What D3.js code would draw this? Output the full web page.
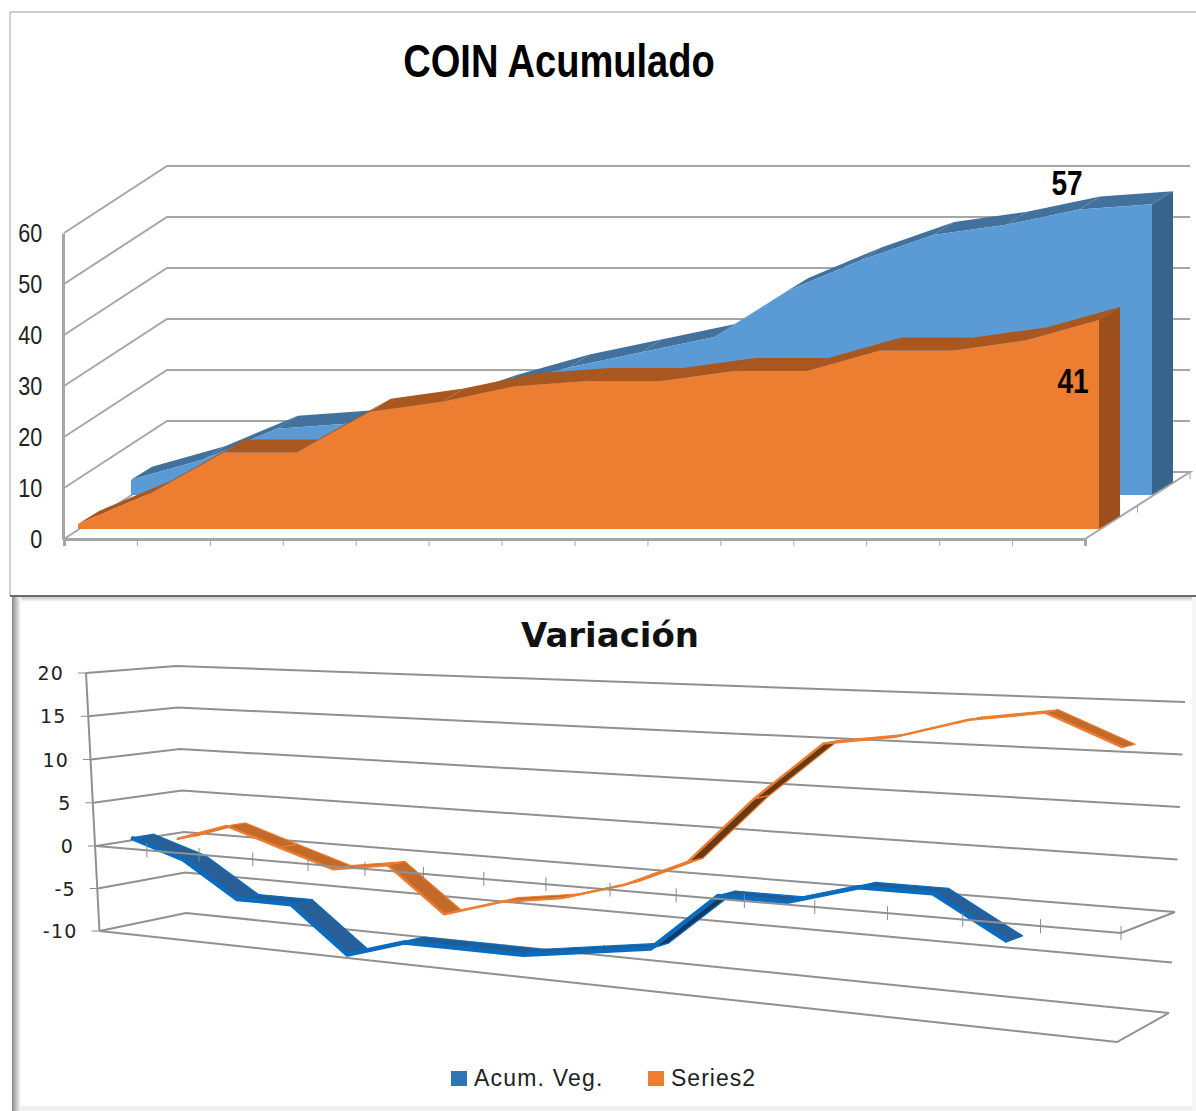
<!DOCTYPE html>
<html>
<head>
<meta charset="utf-8">
<script src="https://cdn.jsdelivr.net/npm/d3@7"></script>
<style>
    html, body { margin: 0; padding: 0; background: #fff; }
    svg { display: block; }
</style>
</head>
<body>
<svg id="chart" width="1196" height="1111"></svg>
<script>
// top chart: COIN Acumulado
const coinTitle = 'COIN Acumulado';
const coinValueTicks = [0, 10, 20, 30, 40, 50, 60];
const coinBlue = [3, 7, 13, 14, 16, 21, 25, 28, 31, 40, 46, 51, 53, 56, 57];
const coinOrange = [1, 7, 15, 15, 23, 25, 28, 29, 29, 31, 31, 35, 35, 37, 41];

// bottom chart: Variación
const varTitle = 'Variación';
const varValueTicks = [-10, -5, 0, 5, 10, 15, 20];
const varCategoryCount = 16;
const varSeriesNames = ['Acum. Veg.', 'Series2'];
const varBlue = [1, -1, -5, -5, -10, -8, -8, -8, -7, -6, 0, 0, 2, 2, -2];
const varOrange = [0, 2, 0, -2, -1, -6, -4, -3, -1, 2, 9, 15, 16, 18, 19, 16];

const gridColor = '#a6a6a6';
const svg = d3.select('#chart');
const linePath = d3.line();

drawFrames();
drawCoinChart();
drawVarChart();

function addFade(id, x2, y2, from) {
    const grad = svg.append('defs').append('linearGradient')
        .attr('id', id).attr('x1', 0).attr('y1', 0).attr('x2', x2).attr('y2', y2);
    grad.append('stop').attr('offset', 0).attr('stop-color', from);
    grad.append('stop').attr('offset', 1).attr('stop-color', '#fff');
}

function drawFrames() {
    addFade('fadeLeft', 1, 0, '#8a8a8a');
    addFade('fadeTop', 0, 1, '#c8c8c8');

    svg.append('path').attr('d', 'M10 596V12H1196').attr('fill', 'none').attr('stroke', '#a0a0a0').attr('stroke-width', 1);
    svg.append('rect').attr('x', 12).attr('y', 597).attr('width', 1184).attr('height', 5).attr('fill', 'url(#fadeTop)');
    svg.append('rect').attr('x', 12).attr('y', 597).attr('width', 9).attr('height', 514).attr('fill', 'url(#fadeLeft)');
    svg.append('rect').attr('x', 21).attr('y', 1106).attr('width', 1175).attr('height', 5).attr('fill', '#efefef');
    svg.append('rect').attr('x', 1192).attr('y', 597).attr('width', 4).attr('height', 514).attr('fill', '#f7f7f7');
    svg.append('line').attr('x1', 10).attr('x2', 1196).attr('y1', 596).attr('y2', 596).attr('stroke', '#3a3a3a').attr('stroke-width', 1.5);
}

function drawCoinChart() {
    const g = svg.append('g');
    const depth = { x: 103, y: -67 };      // floor depth of the box
    const serDepth = { x: 21, y: -13 };    // depth of one area

    const yAxisScale = d3.scaleLinear().domain([0, 60]).range([539, 233]);
    const xAxisScale = d3.scaleLinear().domain([0, 14]).range([64, 1085]);
    const xOrange = d3.scaleLinear().domain([0, 14]).range([78, 1099]);
    const xBlue = d3.scaleLinear().domain([0, 14]).range([131, 1152]);
    const yOrange = d3.scaleLinear().domain([0, 60]).range([529, 223]);
    const yBlue = d3.scaleLinear().domain([0, 60]).range([495, 189]);
    const rightEnd = 1190;

    // wall grid
    coinValueTicks.forEach(v => {
        const y = yAxisScale(v);
        const pts = v === 0
            ? [[64, y], [64 + depth.x, y + depth.y]]
            : [[64, y], [64 + depth.x, y + depth.y], [rightEnd, y + depth.y]];
        g.append('path').attr('d', linePath(pts)).attr('fill', 'none')
            .attr('stroke', gridColor).attr('stroke-width', 2);
    });

    // floor, right part
    const floorY = yAxisScale(0);
    g.append('path').attr('d', linePath([[1085, floorY], [rightEnd, floorY + depth.y], [1152, floorY + depth.y]]))
        .attr('fill', 'none').attr('stroke', gridColor).attr('stroke-width', 2);
    [0.5, 1].forEach(f => {
        const tx = 1085 + (rightEnd - 1085) * f;
        const ty = floorY + depth.y * f;
        g.append('line').attr('x1', tx).attr('x2', tx).attr('y1', ty).attr('y2', ty + 7)
            .attr('stroke', gridColor).attr('stroke-width', 1);
    });

    // y axis
    const yAxis = g.append('g').attr('transform', 'translate(63,0)')
        .call(d3.axisLeft(yAxisScale).tickValues(coinValueTicks).tickSize(0).tickPadding(25));
    yAxis.select('.domain').attr('stroke', gridColor).attr('stroke-width', 3);
    yAxis.selectAll('text')
        .attr('transform', 'scale(0.83,1)')
        .attr('font-family', '"Liberation Sans"')
        .attr('font-size', 26)
        .attr('fill', '#222');

    // x axis, ticks only
    const xAxis = g.append('g').attr('transform', `translate(0,${floorY})`)
        .call(d3.axisBottom(xAxisScale).ticks(14).tickSize(7).tickFormat(''));
    xAxis.select('.domain').attr('stroke', gridColor).attr('stroke-width', 3);
    xAxis.selectAll('line').attr('stroke', gridColor).attr('stroke-width', 1);

    drawArea3d(g, coinBlue, xBlue, yBlue, serDepth, '#5b9bd5', '#41719c', '#38648c');
    drawArea3d(g, coinOrange, xOrange, yOrange, serDepth, '#ed7d31', '#a9571f', '#9c4f1d');

    // end labels
    const narrowText = (text, x, y, size, sx) => g.append('text')
        .attr('transform', `translate(${x},${y}) scale(${sx},1)`)
        .attr('text-anchor', 'middle')
        .attr('font-family', '"Liberation Sans"')
        .attr('font-weight', 700)
        .attr('font-size', size)
        .attr('fill', '#000')
        .text(text);
    narrowText(coinBlue[14], xBlue(14) - 85, yBlue(coinBlue[14]) - 9, 36, 0.78);
    narrowText(coinOrange[14], xOrange(14) - 26, yOrange(coinOrange[14]) + 73, 36, 0.78);
    narrowText(coinTitle, 559, 77, 47, 0.81);
}

function drawArea3d(g, values, x, y, d, frontColor, topColor, sideColor) {
    const last = values.length - 1;

    // right side wall
    g.append('path')
        .attr('d', linePath([
            [x(last), y(0)],
            [x(last) + d.x, y(0) + d.y],
            [x(last) + d.x, y(values[last]) + d.y],
            [x(last), y(values[last])]
        ]) + 'Z')
        .attr('fill', sideColor);

    // top band, one piece per segment
    d3.pairs(values.map((v, i) => [x(i), y(v)])).forEach(([a, b]) => {
        g.append('path')
            .attr('d', linePath([a, b, [b[0] + d.x, b[1] + d.y], [a[0] + d.x, a[1] + d.y]]) + 'Z')
            .attr('fill', topColor);
    });

    const area = d3.area()
        .x((v, i) => x(i))
        .y0(y(0))
        .y1(v => y(v));
    g.append('path').attr('d', area(values)).attr('fill', frontColor);
}

function drawVarChart() {
    const g = svg.append('g');

    // corners of the box for a given value
    const corner = (xs, ys) => {
        const sx = d3.scaleLinear().domain([-10, 0, 20]).range(xs);
        const sy = d3.scaleLinear().domain([-10, 0, 20]).range(ys);
        return v => [sx(v), sy(v)];
    };
    const frontLeft = corner([99.5, 96, 86], [931, 846, 673]);
    const frontRight = corner([1117, 1121, 1129], [1042, 933, 715]);
    const backLeft = corner([186, 184, 176], [913, 832, 666]);
    const backRight = corner([1169, 1175, 1185], [1013, 912, 702]);
    const mix = (a, b, t) => [a[0] + (b[0] - a[0]) * t, a[1] + (b[1] - a[1]) * t];

    // categories get wider towards the viewer
    const perspective = 1.278;
    const catScale = d3.scaleLinear().domain([0, varCategoryCount]).range([0, 1]);
    const catPos = i => {
        const u = catScale(i);
        return u / (u + (1 - u) * perspective);
    };
    const project = (i, v, z) => {
        const t = catPos(i);
        return mix(mix(frontLeft(v), frontRight(v), t), mix(backLeft(v), backRight(v), t), z);
    };

    const gridStroke = sel => sel.attr('fill', 'none').attr('stroke', '#909090').attr('stroke-width', 2);

    // left side and back wall lines
    varValueTicks.forEach(v => {
        g.append('path').attr('d', linePath([frontLeft(v), backLeft(v), backRight(v)])).call(gridStroke);
    });
    g.append('path').attr('d', linePath([frontLeft(20), frontLeft(-10)])).call(gridStroke);

    // bottom plane of the box
    g.append('path').attr('d', linePath([frontLeft(-10), frontRight(-10), backRight(-10)])).call(gridStroke);

    // value labels and small ticks
    varValueTicks.forEach(v => {
        const p = frontLeft(v);
        g.append('line').attr('x1', p[0] - 8).attr('x2', p[0]).attr('y1', p[1]).attr('y2', p[1])
            .attr('stroke', '#8c8c8c').attr('stroke-width', 1);
        g.append('text')
            .attr('x', p[0] - 22).attr('y', p[1] + 7)
            .attr('text-anchor', 'end')
            .attr('font-family', '"DejaVu Sans"')
            .attr('font-size', 19)
            .attr('letter-spacing', 1.2)
            .attr('fill', '#222')
            .text(v);
    });

    drawRibbon(g, varOrange, project, 0.75, 0.11, {
        edge: '#ed7d31', down: '#c46a28', flat: '#b5642a', up: '#673a15', edgeWidth: 2.5
    });
    drawRibbon(g, varBlue, project, 0.25, 0.13, {
        edge: '#0b6cbf', down: '#285f96', flat: '#1f5d96', up: '#123a5e', edgeWidth: 4.5
    });

    // zero plane front line and category ticks stay on top of the ribbons
    g.append('path').attr('d', linePath([frontLeft(0), frontRight(0), backRight(0)])).call(gridStroke);
    d3.range(1, varCategoryCount + 1).forEach(i => {
        const p = project(i, 0, 0);
        g.append('line').attr('x1', p[0]).attr('x2', p[0]).attr('y1', p[1] - 7).attr('y2', p[1] + 7)
            .attr('stroke', '#8c8c8c').attr('stroke-width', 1);
    });

    g.append('text')
        .attr('x', 610).attr('y', 647)
        .attr('text-anchor', 'middle')
        .attr('font-family', '"DejaVu Sans"')
        .attr('font-weight', 700)
        .attr('font-size', 34)
        .attr('fill', '#111')
        .text(varTitle);

    // legend
    const legendItems = [
        { name: varSeriesNames[0], color: '#2e75b6', box: 451, text: 474, spacing: 1.2 },
        { name: varSeriesNames[1], color: '#ed7d31', box: 648, text: 671, spacing: 1 }
    ];
    legendItems.forEach(item => {
        g.append('rect').attr('x', item.box).attr('y', 1071).attr('width', 16).attr('height', 15).attr('fill', item.color);
        g.append('text')
            .attr('x', item.text).attr('y', 1086)
            .attr('font-family', '"Liberation Sans"')
            .attr('font-size', 23)
            .attr('letter-spacing', item.spacing)
            .attr('fill', '#222')
            .text(item.name);
    });
}

function drawRibbon(g, values, project, zMid, zHalf, colors) {
    const points = values.map((v, i) => ({ i: i + 0.5, v }));

    d3.pairs(points).forEach(([a, b]) => {
        const front0 = project(a.i, a.v, zMid - zHalf);
        const front1 = project(b.i, b.v, zMid - zHalf);
        const back1 = project(b.i, b.v, zMid + zHalf);
        const back0 = project(a.i, a.v, zMid + zHalf);
        const face = b.v < a.v - 1 ? colors.down : (b.v > a.v + 1 ? colors.up : colors.flat);
        g.append('path')
            .attr('d', linePath([front0, front1, back1, back0]) + 'Z')
            .attr('fill', face)
            .attr('stroke', colors.edge)
            .attr('stroke-width', 1.2)
            .attr('stroke-linejoin', 'round');
    });

    // lit front edge of the ribbon
    g.append('path')
        .attr('d', linePath(points.map(p => project(p.i, p.v, zMid - zHalf))))
        .attr('fill', 'none')
        .attr('stroke', colors.edge)
        .attr('stroke-width', colors.edgeWidth)
        .attr('stroke-linejoin', 'round');
}
</script>
</body>
</html>
